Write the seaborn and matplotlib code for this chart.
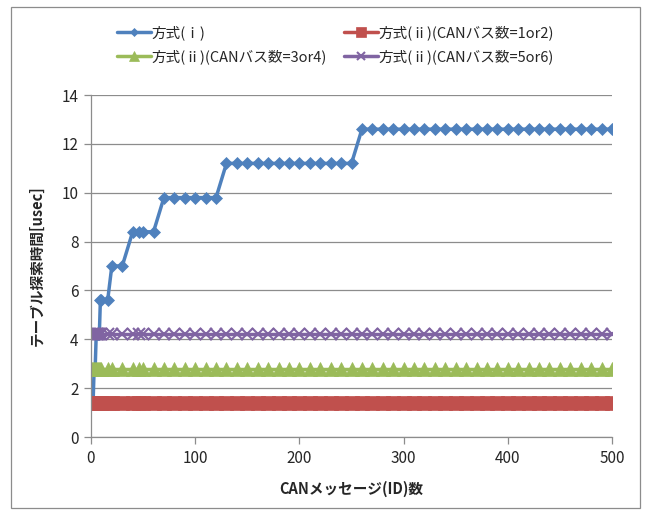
import pandas as pd
import seaborn as sns
import matplotlib.pyplot as plt
from matplotlib.patches import Rectangle

# CANメッセージ(ID)数
msg_count = [1, 2, 3, 4, 5, 6, 7, 8, 9, 10, 16, 20, 30, 40, 46, 50,
             60, 70, 80, 90, 100, 110, 120, 130, 140, 150, 160, 170, 180,
             190, 200, 210, 220, 230, 240, 250, 260, 270, 280, 290, 300,
             310, 320, 330, 340, 350, 360, 370, 380, 390, 400, 410, 420,
             430, 440, 450, 460, 470, 480, 490, 500]

# テーブル探索時間[usec]
method_i = [1.4, 1.4, 2.8, 2.8, 4.2, 4.2, 4.2, 4.2, 5.6, 5.6, 5.6, 7.0, 7.0,
            8.4, 8.4, 8.4, 8.4, 9.8, 9.8, 9.8, 9.8, 9.8, 9.8,
            11.2, 11.2, 11.2, 11.2, 11.2, 11.2, 11.2, 11.2, 11.2, 11.2, 11.2, 11.2, 11.2,
            12.6, 12.6, 12.6, 12.6, 12.6, 12.6, 12.6, 12.6, 12.6, 12.6, 12.6, 12.6, 12.6,
            12.6, 12.6, 12.6, 12.6, 12.6, 12.6, 12.6, 12.6, 12.6, 12.6, 12.6, 12.6]
method_ii_bus12 = [1.4] * 61
method_ii_bus34 = [2.8] * 61
method_ii_bus56 = [4.2] * 61

labels = ['方式(ⅰ)', '方式(ⅱ)(CANバス数=1or2)',
          '方式(ⅱ)(CANバス数=3or4)', '方式(ⅱ)(CANバス数=5or6)']
colors = ['#4F81BD', '#C0504D', '#9BBB59', '#8064A2']

sns.set_style('white')
plt.rcParams['font.family'] = ['Noto Sans CJK JP', 'DejaVu Sans']

fig = plt.figure(figsize=(6.47, 5.11), dpi=100)
ax = fig.add_axes([91 / 647, 74 / 511, 521 / 647, 342 / 511])

series = [method_i, method_ii_bus12, method_ii_bus34, method_ii_bus56]
styles = [dict(marker='D', markersize=6, markeredgewidth=0.5),
          dict(marker='s', markersize=9.5, markeredgewidth=0.5),
          dict(marker='^', markersize=10, markeredgewidth=0.5),
          dict(marker='x', markersize=8, markeredgewidth=1.5)]

for vals, lab, col, st in zip(series, labels, colors, styles):
    sns.lineplot(x=msg_count, y=vals, label=lab, color=col, linewidth=2.5,
                 markeredgecolor=col, ax=ax, **st)

ax.set_xlim(0, 500)
ax.set_ylim(0, 14)
ax.set_yticks(range(0, 15, 2))
ax.set_xticks(range(0, 501, 100))
ax.yaxis.grid(True, color='#8C8C8C', linewidth=0.9)
ax.set_axisbelow(True)
for s in ['top', 'right']:
    ax.spines[s].set_visible(False)
for s in ['left', 'bottom']:
    ax.spines[s].set_color('#8C8C8C')
    ax.spines[s].set_linewidth(0.9)
ax.tick_params(axis='both', direction='out', length=5, width=0.9,
               color='#8C8C8C', labelsize=11, pad=4, left=True, bottom=True)

ax.set_xlabel('CANメッセージ(ID)数', fontsize=10.5, fontweight='bold', labelpad=10)
ax.set_ylabel('テーブル探索時間[usec]', fontsize=10.5, fontweight='bold', labelpad=12)

ax.legend_.remove()
handles, labs = ax.get_legend_handles_labels()
order = [0, 2, 1, 3]
fig.legend([handles[i] for i in order], [labs[i] for i in order], ncol=2,
           loc='upper left', bbox_to_anchor=(117 / 647, 1 - 25 / 511),
           bbox_transform=fig.transFigure, frameon=False, fontsize=10.5,
           handlelength=2.3, handletextpad=0.05, columnspacing=1.2,
           labelspacing=0.65, borderpad=0, borderaxespad=0, markerscale=0.7)

fig.patches.append(Rectangle((11 / 647, 3 / 511), 629 / 647, 501 / 511,
                             transform=fig.transFigure, fill=False,
                             edgecolor='#8C8C8C', linewidth=0.9))

fig.savefig('out.png', dpi=100)
